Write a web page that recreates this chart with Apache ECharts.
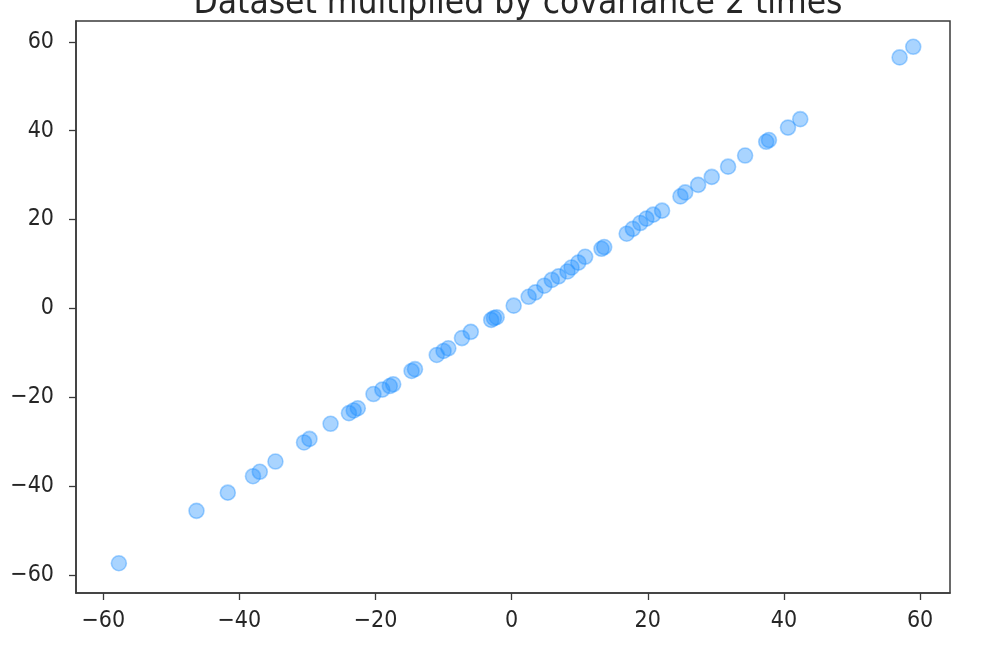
<!DOCTYPE html>
<html>
<head>
<meta charset="utf-8">
<script src="https://cdn.jsdelivr.net/npm/echarts@6/dist/echarts.min.js"></script>
<style>
html,body{margin:0;padding:0;background:#fff;}
#chart{width:993px;height:663px;}
</style>
</head>
<body>
<div id="chart"></div>
<script>
const titleText = "Dataset multiplied by covariance 2 times";
const xValues = [-57.7,-46.3,-41.7,-38.0,-37.0,-34.7,-30.5,-29.7,-26.6,-23.9,-23.2,-22.6,-20.3,-19.0,-17.9,-17.4,-14.7,-14.2,-11.0,-10.0,-9.3,-7.3,-6.0,-3.0,-2.6,-2.2,0.3,2.5,3.5,4.8,5.9,6.9,8.2,8.8,9.8,10.8,13.2,13.6,16.9,17.8,18.9,19.8,20.8,22.1,24.8,25.5,27.4,29.4,31.8,34.3,37.4,37.8,40.6,42.4,57.0,59.0];
const yValues = [-57.4,-45.6,-41.5,-37.8,-36.8,-34.5,-30.2,-29.4,-26.0,-23.6,-23.0,-22.5,-19.3,-18.3,-17.5,-17.1,-14.1,-13.7,-10.5,-9.6,-9.0,-6.7,-5.3,-2.6,-2.2,-2.0,0.6,2.6,3.6,5.1,6.4,7.2,8.3,9.2,10.3,11.6,13.4,13.8,16.8,17.9,19.2,20.2,21.1,22.0,25.2,26.1,27.8,29.6,31.9,34.4,37.5,37.9,40.7,42.6,56.5,58.9];
const xTicks = [-60,-40,-20,0,20,40,60];
const yTicks = [-60,-40,-20,0,20,40,60];

const points = xValues.map((x, i) => [x, yValues[i]]);
const fmt = v => (v < 0 ? '\u2212' + Math.abs(v) : String(v));
const font = "'DejaVu Sans Condensed', 'DejaVu Sans', sans-serif";
const axisColor = '#3a3a3a';
const labelColor = '#262626';

const chart = echarts.init(document.getElementById('chart'), null, {renderer: 'canvas'});
chart.setOption({
  animation: false,
  backgroundColor: '#ffffff',
  title: {
    text: titleText,
    left: 513,
    textAlign: 'center',
    top: -19,
    textStyle: {fontFamily: font, fontSize: 35, fontWeight: 'normal', color: labelColor}
  },
  grid: {
    left: 76, right: 43, top: 21, bottom: 70,
    show: true, borderColor: axisColor, borderWidth: 1.5, backgroundColor: 'transparent'
  },
  xAxis: {
    type: 'value', min: -64, max: 64.4,
    axisLine: {show: true, onZero: false, lineStyle: {color: axisColor, width: 1.5}},
    axisTick: {show: true, inside: false, length: 7, customValues: xTicks, lineStyle: {color: axisColor, width: 1.3}},
    axisLabel: {customValues: xTicks, formatter: fmt, margin: 17, fontFamily: font, fontSize: 23, color: labelColor},
    splitLine: {show: false}
  },
  yAxis: {
    type: 'value', min: -64.1, max: 64.7,
    axisLine: {show: true, onZero: false, lineStyle: {color: axisColor, width: 1.5}},
    axisTick: {show: true, inside: false, length: 7, customValues: yTicks, lineStyle: {color: axisColor, width: 1.3}},
    axisLabel: {customValues: yTicks, formatter: fmt, margin: 22, fontFamily: font, fontSize: 23, color: labelColor},
    splitLine: {show: false}
  },
  series: [{
    type: 'scatter',
    data: points,
    symbol: 'circle',
    symbolSize: 15,
    itemStyle: {color: 'rgba(30,144,255,0.48)', borderColor: 'rgba(30,144,255,0.48)', borderWidth: 1.6},
    emphasis: {disabled: true}
  }]
});
</script>
</body>
</html>
